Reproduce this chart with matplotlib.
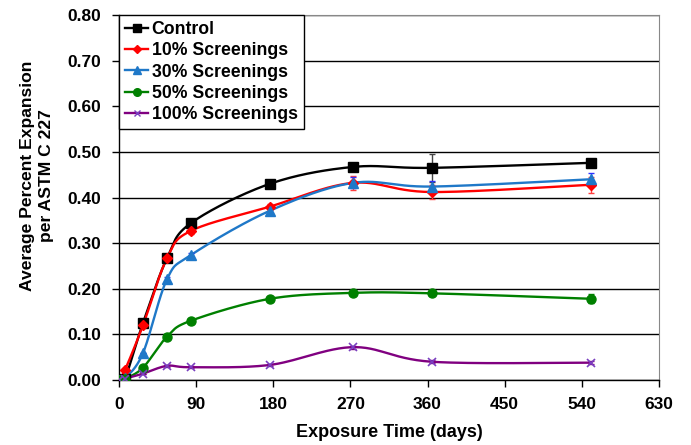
import numpy as np
import matplotlib
matplotlib.use('Agg')
import matplotlib.pyplot as plt
from matplotlib.lines import Line2D

plt.rcParams['font.family'] = ['Liberation Sans', 'DejaVu Sans']
plt.rcParams['font.weight'] = 'bold'

# exposure time (days)
days = [0, 7, 28, 56, 84, 176, 273, 365, 551]

control = [0.000, 0.003, 0.125, 0.267, 0.344, 0.430, 0.467, 0.465, 0.476]
s10 = [0.000, 0.022, 0.120, 0.267, 0.327, 0.380, 0.432, 0.412, 0.428]
s30 = [0.000, 0.004, 0.059, 0.221, 0.274, 0.371, 0.432, 0.424, 0.440]
s50 = [0.000, 0.003, 0.027, 0.095, 0.130, 0.178, 0.191, 0.190, 0.178]
s100 = [0.000, 0.003, 0.014, 0.031, 0.028, 0.033, 0.072, 0.040, 0.038]

err_control = [0, 0, 0, 0.004, 0.004, 0.004, 0.006, 0.030, 0.006]
err_s10 = [0, 0, 0, 0.006, 0.006, 0.006, 0.015, 0.015, 0.018]
err_s30 = [0, 0, 0, 0.004, 0.004, 0.006, 0.012, 0.012, 0.014]
err_s50 = [0, 0, 0, 0.003, 0.003, 0.003, 0.004, 0.004, 0.010]
err_s100 = [0, 0, 0, 0.002, 0.002, 0.002, 0.003, 0.003, 0.003]

labels = ['Control', '10% Screenings', '30% Screenings', '50% Screenings', '100% Screenings']
colors = ['black', '#ff0000', '#1f78c8', '#008000', '#800080']
mcolors = ['black', '#ff0000', '#1f78c8', '#008000', '#7a3fc0']
markers = ['s', 'D', '^', 'o', 'x']
msizes = [7, 5, 6.5, 6.5, 6]
ecolors = ['#444444', '#ff4040', '#3030ff', '#008000', '#800080']


def smooth(x, y, n=30):
    # Excel-style smoothed line: Catmull-Rom bezier between points
    x = np.asarray(x, float)
    y = np.asarray(y, float)
    px, py = [], []
    m = len(x)
    for i in range(m - 1):
        x0, y0 = (x[i - 1], y[i - 1]) if i > 0 else (x[i], y[i])
        x3, y3 = (x[i + 2], y[i + 2]) if i + 2 < m else (x[i + 1], y[i + 1])
        x1, y1, x2, y2 = x[i], y[i], x[i + 1], y[i + 1]
        c1x, c1y = x1 + (x2 - x0) / 6, y1 + (y2 - y0) / 6
        c2x, c2y = x2 - (x3 - x1) / 6, y2 - (y3 - y1) / 6
        t = np.linspace(0, 1, n)
        bx = (1 - t) ** 3 * x1 + 3 * (1 - t) ** 2 * t * c1x + 3 * (1 - t) * t ** 2 * c2x + t ** 3 * x2
        by = (1 - t) ** 3 * y1 + 3 * (1 - t) ** 2 * t * c1y + 3 * (1 - t) * t ** 2 * c2y + t ** 3 * y2
        px.extend(bx)
        py.extend(by)
    return px, py


fig = plt.figure(figsize=(6.91, 4.45), dpi=100)
ax = fig.add_axes([119 / 691, 1 - 380 / 445, 540 / 691, 365 / 445])

series = [control, s10, s30, s50, s100]
errs = [err_control, err_s10, err_s30, err_s50, err_s100]
handles = []
for k in range(5):
    sx, sy = smooth(days, series[k])
    ax.plot(sx, sy, color=colors[k], lw=1.7, zorder=3)
    ax.errorbar(days, series[k], yerr=errs[k], fmt='none', ecolor=ecolors[k],
                elinewidth=1, capsize=2.5, zorder=4)
    ax.plot(days, series[k], ls='none', marker=markers[k], ms=msizes[k],
            color=mcolors[k], mew=1.2 if markers[k] == 'x' else 1, zorder=5)
    handles.append(Line2D([], [], color=colors[k], lw=1.7, marker=markers[k],
                          ms=msizes[k] - 1, markerfacecolor=mcolors[k],
                          markeredgecolor=mcolors[k]))

ax.set_xlim(0, 630)
ax.set_ylim(0, 0.8)
ax.set_xticks(np.arange(0, 631, 90))
ax.set_yticks(np.arange(0, 0.81, 0.1))
ax.set_yticklabels(['%.2f' % v for v in np.arange(0, 0.81, 0.1)])
ax.yaxis.grid(True, color='black', lw=1)
ax.set_axisbelow(True)
for s in ['top', 'right']:
    ax.spines[s].set_color('#888888')
for s in ['left', 'bottom']:
    ax.spines[s].set_color('black')
    ax.spines[s].set_linewidth(1)
ax.tick_params(direction='out', length=5, width=1, labelsize=12.5)
ax.tick_params(axis='y', pad=8)
ax.tick_params(axis='x', pad=7)
for lab in ax.get_xticklabels() + ax.get_yticklabels():
    lab.set_fontweight('bold')

ax.set_xlabel('Exposure Time (days)', fontsize=13, fontweight='bold', labelpad=9)
ax.set_ylabel('Average Percent Expansion\nper ASTM C 227', fontsize=12.6,
              fontweight='bold', linespacing=1.35)
ax.yaxis.set_label_coords(-0.12, 0.56)

leg = ax.legend(handles, labels, loc='upper left', bbox_to_anchor=(0, 1),
                prop={'size': 12.7, 'weight': 'bold'}, handlelength=1.3,
                handletextpad=0.2, labelspacing=0.24, borderpad=0.35,
                borderaxespad=0, fancybox=False, framealpha=1)
leg.get_frame().set_edgecolor('black')
leg.get_frame().set_linewidth(1)

fig.savefig('out.png', dpi=100)
